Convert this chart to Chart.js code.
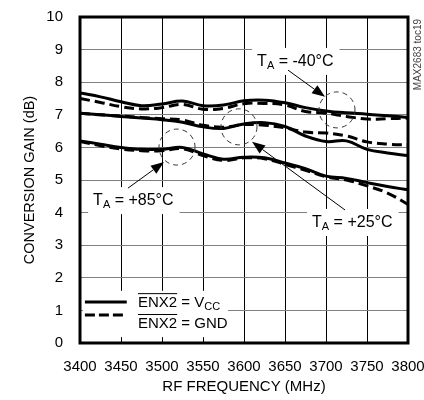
<!DOCTYPE html>
<html>
<head>
<meta charset="utf-8">
<script src="https://cdn.jsdelivr.net/npm/chart.js@4.4.1/dist/chart.umd.min.js"></script>
<style>
  html, body { margin: 0; padding: 0; background: #fff; }
  canvas { display: block; }
</style>
</head>
<body>
<canvas id="gainChart" width="424" height="400"></canvas>
<script>
// conversion gain vs RF frequency
const freqMHz   = [3400, 3425, 3450, 3475, 3500, 3525, 3550, 3575, 3600, 3625, 3650, 3675, 3700, 3725, 3750, 3775, 3800];
const solidM40  = [7.67, 7.55, 7.40, 7.28, 7.33, 7.42, 7.28, 7.30, 7.43, 7.45, 7.37, 7.22, 7.12, 7.06, 7.02, 6.97, 6.92];
const dashedM40 = [7.50, 7.38, 7.25, 7.18, 7.22, 7.32, 7.17, 7.20, 7.34, 7.35, 7.30, 7.10, 7.05, 6.95, 6.87, 6.88, 6.90];
const solid25   = [7.05, 7.00, 6.95, 6.90, 6.85, 6.77, 6.63, 6.58, 6.72, 6.76, 6.64, 6.35, 6.18, 6.20, 5.94, 5.83, 5.75];
const dashed25  = [7.05, 7.00, 6.96, 6.92, 6.88, 6.84, 6.68, 6.62, 6.70, 6.68, 6.60, 6.47, 6.44, 6.35, 6.17, 6.10, 6.07];
const solid85   = [6.20, 6.10, 6.00, 5.94, 5.94, 6.00, 5.80, 5.64, 5.70, 5.68, 5.52, 5.35, 5.12, 5.05, 4.92, 4.80, 4.70];
const dashed85  = [6.18, 6.05, 5.95, 5.90, 5.90, 5.96, 5.75, 5.60, 5.68, 5.65, 5.48, 5.30, 5.10, 5.00, 4.82, 4.60, 4.25];

const xTickStep = 50;
const yTickStep = 1;

const FONT = '"Liberation Sans", Arial, sans-serif';

function series(values) {
  return values.map((v, i) => ({ x: freqMHz[i], y: v }));
}

function lineSet(label, values, dashed) {
  return {
    label,
    data: series(values),
    borderColor: '#000',
    borderWidth: 3,
    borderDash: dashed ? [10, 5] : [],
    pointRadius: 0,
    tension: 0.4,
    fill: false
  };
}

// temperature labels, arrows and circles (positions in MHz / dB)
const tempNotes = [
  { text: '-40°C', tx: 3616, ty: 8.50, from: [3653.7, 8.37], to: [3698.8, 7.55], ring: [3713.4, 7.15] },
  { text: '+85°C', tx: 3416, ty: 4.23, from: [3458.5, 4.75], to: [3502.4, 5.55], ring: [3518.3, 6.01] },
  { text: '+25°C', tx: 3683, ty: 3.56, from: [3723.2, 4.08], to: [3609.8, 6.17], ring: [3593.9, 6.63] }
];

function arrow(ctx, x1, y1, x2, y2) {
  const ang = Math.atan2(y2 - y1, x2 - x1);
  const len = 13, half = 5;
  ctx.beginPath();
  ctx.moveTo(x1, y1);
  ctx.lineTo(x2 - Math.cos(ang) * len, y2 - Math.sin(ang) * len);
  ctx.stroke();
  ctx.beginPath();
  ctx.moveTo(x2, y2);
  ctx.lineTo(x2 - Math.cos(ang) * len - Math.sin(ang) * half, y2 - Math.sin(ang) * len + Math.cos(ang) * half);
  ctx.lineTo(x2 - Math.cos(ang) * len + Math.sin(ang) * half, y2 - Math.sin(ang) * len - Math.cos(ang) * half);
  ctx.closePath();
  ctx.fill();
}

const notesPlugin = {
  id: 'notes',
  afterDatasetsDraw(chart) {
    const { ctx, chartArea, scales: { x, y } } = chart;
    ctx.save();
    ctx.fillStyle = '#000';
    ctx.strokeStyle = '#000';
    ctx.textBaseline = 'alphabetic';
    ctx.textAlign = 'left';

    tempNotes.forEach(n => {
      const px = x.getPixelForValue(n.tx);
      const py = y.getPixelForValue(n.ty);
      ctx.font = '16px ' + FONT;
      const wT = ctx.measureText('T').width;
      const rest = ' = ' + n.text;
      const wRest = ctx.measureText(rest).width;
      ctx.font = '11px ' + FONT;
      const wA = ctx.measureText('A').width;
      const total = wT + wA + wRest;

      ctx.fillStyle = '#fff';
      ctx.fillRect(px - 5, py - 18, total + 11, 27);
      ctx.fillStyle = '#000';

      ctx.font = '16px ' + FONT;
      ctx.fillText('T', px, py);
      ctx.font = '11px ' + FONT;
      ctx.fillText('A', px + wT, py + 3);
      ctx.font = '16px ' + FONT;
      ctx.fillText(rest, px + wT + wA, py);

      ctx.lineWidth = 1;
      ctx.setLineDash([]);
      arrow(ctx, x.getPixelForValue(n.from[0]), y.getPixelForValue(n.from[1]),
                 x.getPixelForValue(n.to[0]), y.getPixelForValue(n.to[1]));

      ctx.setLineDash([5, 4]);
      ctx.strokeStyle = '#333';
      ctx.beginPath();
      ctx.arc(x.getPixelForValue(n.ring[0]), y.getPixelForValue(n.ring[1]), 18, 0, Math.PI * 2);
      ctx.stroke();
      ctx.strokeStyle = '#000';
      ctx.setLineDash([]);
    });

    // legend box, bottom left
    const lx0 = x.getPixelForValue(3403.7), lx1 = x.getPixelForValue(3580.5);
    const ly0 = y.getPixelForValue(1.6), ly1 = y.getPixelForValue(0.18);
    ctx.fillStyle = '#fff';
    ctx.fillRect(lx0, ly0, lx1 - lx0, ly1 - ly0);
    ctx.fillStyle = '#000';

    const rows = [
      { dash: [], ly: 1.26, base: 1.10, tail: 'V', sub: 'CC' },
      { dash: [10, 4], ly: 0.86, base: 0.46, tail: 'GND', sub: '' }
    ];
    rows.forEach(r => {
      const yy = y.getPixelForValue(r.ly);
      ctx.lineWidth = 3;
      ctx.setLineDash(r.dash);
      ctx.beginPath();
      ctx.moveTo(x.getPixelForValue(3406), yy);
      ctx.lineTo(x.getPixelForValue(3457), yy);
      ctx.stroke();
      ctx.setLineDash([]);

      const tx = x.getPixelForValue(3470.7);
      const ty = y.getPixelForValue(r.base);
      ctx.font = '15px ' + FONT;
      const wE = ctx.measureText('ENX2').width;
      ctx.fillText('ENX2', tx, ty);
      ctx.lineWidth = 1;
      ctx.beginPath();
      ctx.moveTo(tx, ty - 13.5);
      ctx.lineTo(tx + wE, ty - 13.5);
      ctx.stroke();
      const mid = ' = ' + r.tail;
      ctx.fillText(mid, tx + wE, ty);
      if (r.sub) {
        const wm = ctx.measureText(mid).width;
        ctx.font = '11px ' + FONT;
        ctx.fillText(r.sub, tx + wE + wm, ty + 3);
      }
    });

    // heavy frame
    ctx.lineWidth = 3;
    ctx.strokeStyle = '#000';
    ctx.strokeRect(chartArea.left, chartArea.top, chartArea.right - chartArea.left, chartArea.bottom - chartArea.top);

    // part number at right edge
    ctx.save();
    ctx.translate(418, chartArea.top + 2);
    ctx.rotate(-Math.PI / 2);
    ctx.textAlign = 'right';
    ctx.textBaseline = 'middle';
    ctx.fillStyle = '#444';
    ctx.font = '10px ' + FONT;
    ctx.fillText('MAX2683 toc19', 0, 0);
    ctx.restore();

    ctx.restore();
  }
};

const ctx = document.getElementById('gainChart').getContext('2d');
new Chart(ctx, {
  type: 'line',
  data: {
    datasets: [
      lineSet('-40 solid', solidM40, false),
      lineSet('-40 dashed', dashedM40, true),
      lineSet('+25 solid', solid25, false),
      lineSet('+25 dashed', dashed25, true),
      lineSet('+85 solid', solid85, false),
      lineSet('+85 dashed', dashed85, true)
    ]
  },
  options: {
    responsive: false,
    animation: false,
    devicePixelRatio: 1,
    layout: { padding: { top: 17, right: 16, left: 0, bottom: 0 } },
    plugins: {
      legend: { display: false },
      tooltip: { enabled: false }
    },
    scales: {
      x: {
        type: 'linear',
        min: 3400,
        max: 3800,
        afterFit(s) { s.height = 57; s.paddingLeft = 0; s.paddingRight = 0; },
        ticks: { stepSize: xTickStep, padding: 15, color: '#000', maxRotation: 0, autoSkip: false,
                 callback: v => String(v),
                 font: { family: FONT, size: 15 } },
        grid: { color: '#000', lineWidth: 1, drawTicks: false },
        border: { display: false },
        title: { display: true, text: 'RF FREQUENCY (MHz)', color: '#000',
                 font: { family: FONT, size: 15 }, padding: { top: 0, bottom: 4 } }
      },
      y: {
        min: 0,
        max: 10,
        afterFit(s) { s.width = 80; s.paddingTop = 0; s.paddingBottom = 0; },
        ticks: { stepSize: yTickStep, padding: 17, color: '#000', callback: v => String(v),
                 font: { family: FONT, size: 15 } },
        grid: { color: '#808080', lineWidth: 1, drawTicks: false },
        border: { display: false },
        title: { display: true, text: 'CONVERSION GAIN (dB)', color: '#000',
                 font: { family: FONT, size: 14.5 }, padding: { top: 21, bottom: 0 } }
      }
    }
  },
  plugins: [notesPlugin]
});
</script>
</body>
</html>
